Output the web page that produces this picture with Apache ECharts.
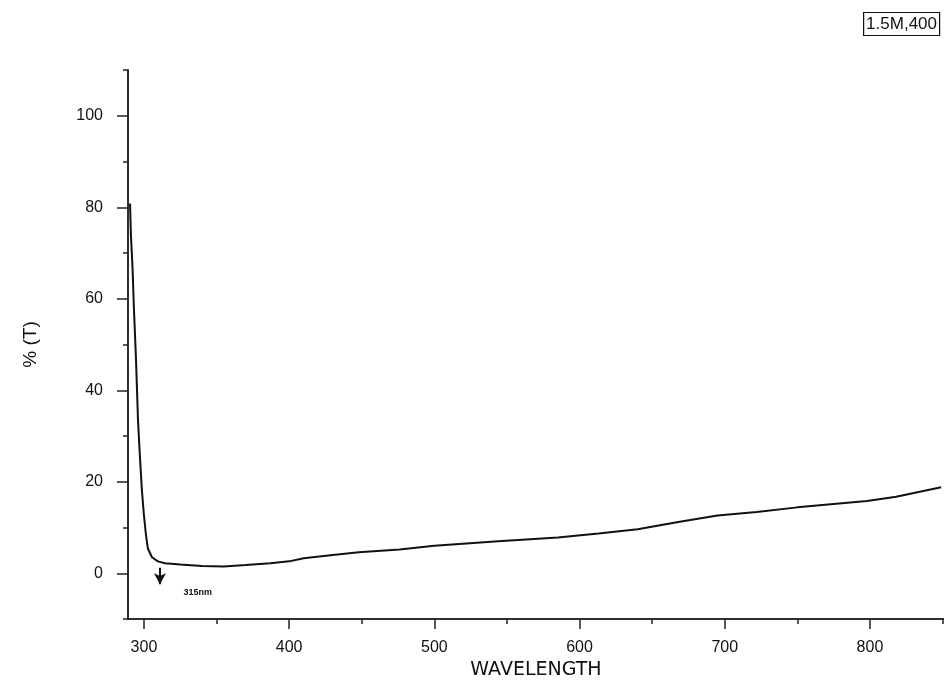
<!DOCTYPE html>
<html>
<head>
<meta charset="utf-8">
<script src="https://cdn.jsdelivr.net/npm/echarts@6/dist/echarts.min.js"></script>
<style>
  html, body { margin: 0; padding: 0; background: #fff; }
  #chart { width: 944px; height: 696px; }
</style>
</head>
<body>
<div id="chart"></div>
<script>
// Transmittance spectrum of the 1.5M,400 sample
const wavelength = [290.4, 291, 292.1, 293.1, 294.5, 295.9, 297.3, 298.6, 300, 301.4, 302.7, 305.5, 309.6, 314.4,
  325, 340, 355, 370, 387, 400, 410, 430, 448, 476, 500, 544, 585, 613, 640, 668, 695, 722, 750, 798, 818, 849];
const transmittance = [80.8, 74, 66.9, 57.7, 46.8, 33.3, 25, 18, 12.6, 8.3, 5.4, 3.5, 2.6, 2.2,
  1.9, 1.6, 1.5, 1.8, 2.2, 2.6, 3.3, 4.0, 4.6, 5.2, 6.0, 7.0, 7.8, 8.7, 9.6, 11.2, 12.6, 13.4, 14.4, 15.8, 16.7, 18.8];

const xMajorTicks = [300, 400, 500, 600, 700, 800];
const xMinorTicks = [350, 450, 550, 650, 750, 850];
const yMajorTicks = [0, 20, 40, 60, 80, 100];
const yMinorTicks = [-10, 10, 30, 50, 70, 90, 110];

const edgeWavelength = 311;
const edgeLabel = '315nm';
const sampleLabel = '1.5M,400';

const xRange = [289, 851];
const yRange = [-10, 110];

const axisColor = '#222';
const font = 'Arial, "Liberation Sans", sans-serif';

const points = wavelength.map((w, i) => [w, transmittance[i]]);

const chart = echarts.init(document.getElementById('chart'), null, { renderer: 'canvas' });

function xAxisDef(ticks, len, withLabels, extra) {
  return Object.assign({
    type: 'value', min: xRange[0], max: xRange[1], position: 'bottom',
    axisLine: { show: true, onZero: false, lineStyle: { color: axisColor, width: 1.5 } },
    axisTick: { show: true, inside: false, length: len, customValues: ticks, lineStyle: { color: axisColor, width: 1.5 } },
    axisLabel: withLabels
      ? { show: true, customValues: ticks, margin: 21, fontSize: 16, fontFamily: font, color: '#111' }
      : { show: false },
    splitLine: { show: false }
  }, extra || {});
}

function yAxisDef(ticks, len, withLabels, extra) {
  return Object.assign({
    type: 'value', min: yRange[0], max: yRange[1], position: 'left',
    axisLine: { show: true, onZero: false, lineStyle: { color: axisColor, width: 1.5 } },
    axisTick: { show: true, inside: false, length: len, customValues: ticks, lineStyle: { color: axisColor, width: 1.5 } },
    axisLabel: withLabels
      ? { show: true, customValues: ticks, margin: 25, fontSize: 16, fontFamily: font, color: '#111' }
      : { show: false },
    splitLine: { show: false }
  }, extra || {});
}

chart.setOption({
  animation: false,
  backgroundColor: '#fff',
  title: {
    text: sampleLabel,
    right: 4, top: 12,
    padding: [4, 3, 3, 3],
    borderColor: '#111', borderWidth: 1.2,
    textStyle: { fontSize: 17, fontWeight: 'normal', fontFamily: font, color: '#111' }
  },
  grid: { left: 128, right: 0, top: 70, bottom: 77, containLabel: false },
  xAxis: [
    xAxisDef(xMajorTicks, 10, true, {
      name: 'WAVELENGTH', nameLocation: 'middle', nameGap: 41,
      nameTextStyle: { fontSize: 19, fontFamily: '"DejaVu Sans", sans-serif', color: '#111' }
    }),
    xAxisDef(xMinorTicks, 5, false)
  ],
  yAxis: [
    yAxisDef(yMajorTicks, 11, true, {
      name: '% (T)', nameLocation: 'middle', nameGap: 88, nameRotate: 90,
      nameTextStyle: { fontSize: 19, fontFamily: font, color: '#111' }
    }),
    yAxisDef(yMinorTicks, 5, false)
  ],
  series: [{
    type: 'line',
    data: points,
    xAxisIndex: 0, yAxisIndex: 0,
    showSymbol: false,
    lineStyle: { color: '#111', width: 2 },
    silent: true,
    markLine: {
      silent: true,
      symbol: ['none', 'arrow'],
      symbolSize: [9, 11],
      label: { show: false },
      lineStyle: { color: '#111', width: 2, type: 'solid' },
      data: [[{ coord: [edgeWavelength, 1.2] }, { coord: [edgeWavelength, -2.4] }]]
    },
    markPoint: {
      silent: true,
      symbol: 'circle', symbolSize: 0,
      label: {
        show: true, position: 'inside', formatter: edgeLabel,
        fontSize: 9, fontWeight: 'bold', fontFamily: font, color: '#111'
      },
      data: [{ coord: [337, -4.2] }]
    }
  }]
});
</script>
</body>
</html>
